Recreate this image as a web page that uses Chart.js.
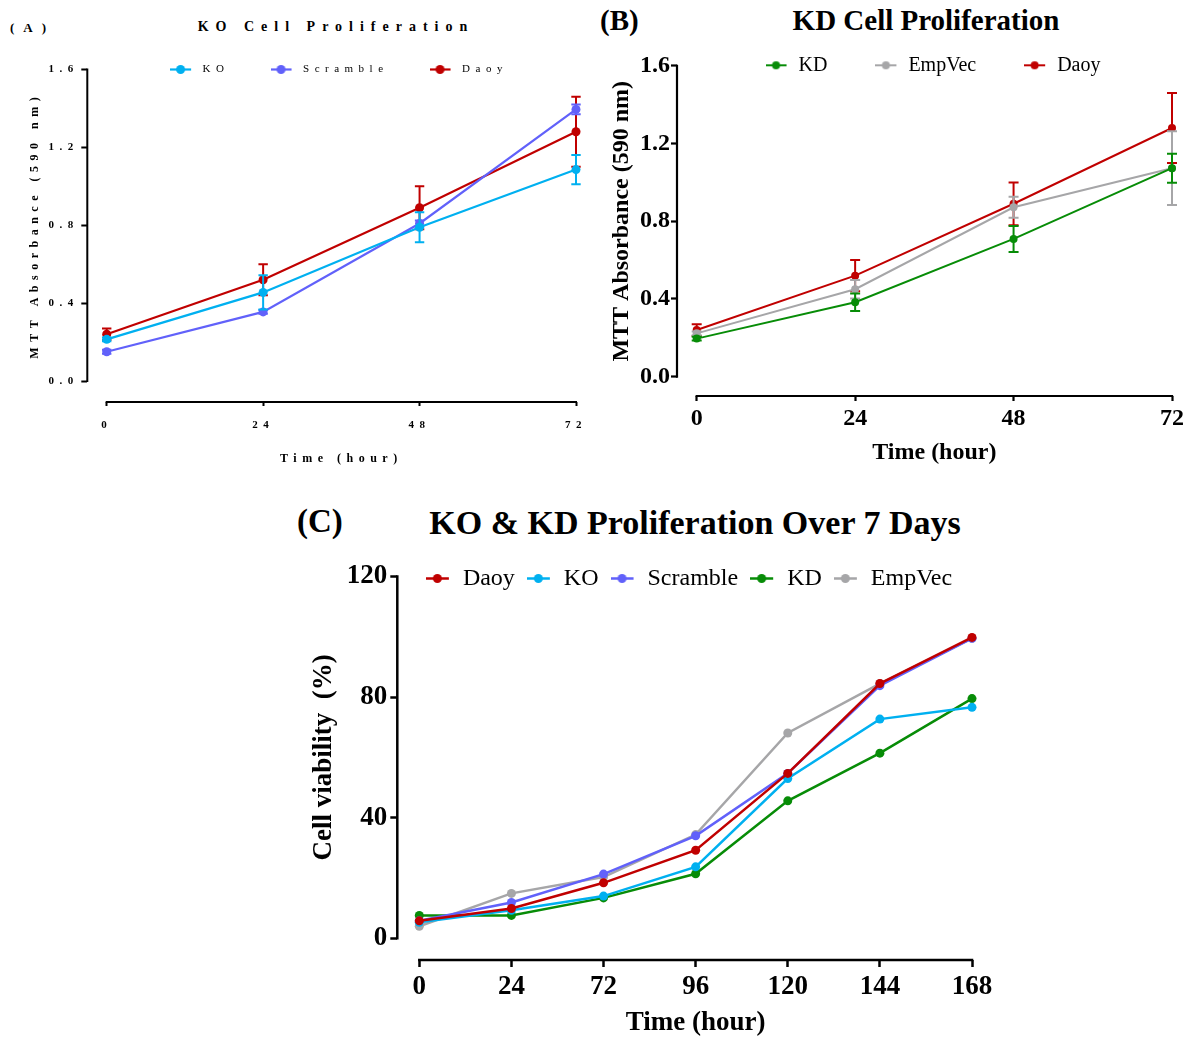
<!DOCTYPE html>
<html>
<head>
<meta charset="utf-8">
<title>Cell proliferation</title>
<script src="https://cdn.jsdelivr.net/npm/chart.js@4.4.1/dist/chart.umd.min.js"></script>
<style>
body { margin: 0; background: #fff; }
#page { position: relative; width: 1189px; height: 1041px; overflow: hidden;
  font-family: "Liberation Serif", "Times New Roman", serif; color: #000; }
#page canvas { position: absolute; }
.txt { position: absolute; white-space: nowrap; font-weight: bold; line-height: 1; transform: translateY(-50%); }
.mid { transform: translate(-50%, -50%); }
</style>
</head>
<body>
<div id="page">
  <div class="txt" style="left:10px;top:27px;font-size:13px;letter-spacing:9px">(A)</div>
  <div class="txt mid" style="left:336px;top:27px;font-size:14px;letter-spacing:7px">KO Cell Proliferation</div>
  <div class="txt" style="left:600px;top:20px;font-size:29px">(B)</div>
  <div class="txt mid" style="left:926px;top:20px;font-size:29px">KD Cell Proliferation</div>
  <div class="txt" style="left:297px;top:521px;font-size:33px">(C)</div>
  <div class="txt mid" style="left:695px;top:523px;font-size:34px">KO &amp; KD Proliferation Over 7 Days</div>
  <canvas id="chartA" width="600" height="475" style="left:0;top:0"></canvas>
  <canvas id="chartB" width="594" height="475" style="left:595px;top:0"></canvas>
  <canvas id="chartC" width="939" height="566" style="left:250px;top:475px"></canvas>
</div>
<script>
// ---- data ----
const hoursAB = [0, 24, 48, 72];
const absTicks = [0, 0.4, 0.8, 1.2, 1.6];
const absTickLabels = ['0.0', '0.4', '0.8', '1.2', '1.6'];

const koAbs = [0.214, 0.455, 0.790, 1.086];
const koAbsErr = [0.01, 0.088, 0.077, 0.075];
const scrambleAbs = [0.150, 0.355, 0.809, 1.395];
const scrambleAbsErr = [0.01, 0.01, 0.015, 0.025];
const daoyAbs = [0.240, 0.520, 0.890, 1.280];
const daoyAbsErr = [0.03, 0.08, 0.11, 0.18];
const kdAbs = [0.196, 0.383, 0.709, 1.073];
const kdAbsErr = [0.01, 0.045, 0.067, 0.075];
const empVecAbs = [0.223, 0.450, 0.872, 1.073];
const empVecAbsErr = [0.01, 0.048, 0.054, 0.19];

const hoursC = ['0', '24', '72', '96', '120', '144', '168'];
const viabTicks = [0, 40, 80, 120];
const viabTickLabels = ['0', '40', '80', '120'];
const daoyViab = [5.8, 9.9, 18.4, 29.2, 54.7, 84.5, 99.8];
const koViab = [5.3, 9.3, 14.0, 23.7, 53.0, 72.7, 76.6];
const scrambleViab = [5.8, 11.9, 21.3, 34.0, 54.7, 83.8, 99.5];
const kdViab = [7.6, 7.6, 13.4, 21.4, 45.6, 61.4, 79.5];
const empVecViab = [4.0, 14.9, 20.3, 34.4, 68.1, 84.5, 99.5];

const RED = '#c00000', CYAN = '#00b0f0', VIOLET = '#6161fa', GREEN = '#078c07', GREY = '#a6a6a8';

Chart.defaults.font.family = '"Liberation Serif", "Times New Roman", serif';
Chart.defaults.color = '#000';

// GraphPad style: axes pulled away from the plot, legend sitting level with the top tick
const offsetAxes = {
  id: 'offsetAxes',
  afterInit(chart) {
    const legend = chart.legend;
    const fit = legend.fit;
    legend.fit = function () {
      fit.call(this);
      this.fullHeight = this.height;
      this.height = 0;
    };
  },
  afterLayout(chart, args, o) {
    const { x, y } = chart.scales;
    y.left -= o.gapX; y.right -= o.gapX;
    x.top += o.gapY; x.bottom += o.gapY;
    const lg = chart.legend;
    const lab = lg.options.labels;
    const half = lg.width / 2;
    lg.left = o.legendX - half;
    lg.right = o.legendX + half;
    lg.top = y.getPixelForValue(y.max) + o.legendDy - lab.padding - lab.font.size / 2;
    lg.bottom = lg.top + lg.fullHeight;
  },
  beforeDatasetsDraw(chart, args, o) {
    const { x, y } = chart.scales;
    const ctx = chart.ctx;
    ctx.save();
    ctx.strokeStyle = '#000';
    ctx.lineWidth = o.lineWidth;
    ctx.beginPath();
    ctx.moveTo(y.right, y.getPixelForValue(y.max) - o.lineWidth / 2);
    ctx.lineTo(y.right, y.getPixelForValue(y.min) + o.lineWidth / 2);
    ctx.moveTo(x.getPixelForValue(x.min) - o.lineWidth / 2, x.top);
    ctx.lineTo(x.getPixelForValue(x.max) + o.lineWidth / 2, x.top);
    ctx.stroke();
    ctx.restore();
  }
};

const errorBars = {
  id: 'errorBars',
  beforeDatasetDraw(chart, args, o) {
    const ds = chart.data.datasets[args.index];
    if (!ds.errors) return;
    const y = chart.scales.y;
    const ctx = chart.ctx;
    ctx.save();
    ctx.strokeStyle = ds.borderColor;
    ctx.lineWidth = o.width;
    ds.data.forEach((v, i) => {
      const px = args.meta.data[i].x;
      const top = y.getPixelForValue(v + ds.errors[i]);
      const bot = y.getPixelForValue(v - ds.errors[i]);
      ctx.beginPath();
      ctx.moveTo(px, top); ctx.lineTo(px, bot);
      ctx.moveTo(px - o.cap, top); ctx.lineTo(px + o.cap, top);
      ctx.moveTo(px - o.cap, bot); ctx.lineTo(px + o.cap, bot);
      ctx.stroke();
    });
    ctx.restore();
  }
};

// panel A is typeset with wide letter spacing
const spacing = {
  id: 'spacing',
  beforeUpdate(chart, args, o) { chart.ctx.letterSpacing = o.px + 'px'; },
  beforeDraw(chart, args, o) { chart.ctx.letterSpacing = o.px + 'px'; }
};

function legendMark(color, m) {
  const c = document.createElement('canvas');
  c.width = m.w + m.gap;
  c.height = 2 * m.r + 2;
  const g = c.getContext('2d');
  const mid = c.height / 2;
  g.strokeStyle = color;
  g.fillStyle = color;
  g.lineWidth = m.line;
  g.beginPath(); g.moveTo(0, mid); g.lineTo(m.w, mid); g.stroke();
  g.beginPath(); g.arc(m.w / 2, mid, m.r, 0, Math.PI * 2); g.fill();
  return c;
}

function buildChart(id, d, s, extra) {
  const datasets = d.series.map(ser => ({
    label: ser.name,
    data: ser.values,
    errors: ser.errors,
    mark: legendMark(ser.color, s.mark),
    borderColor: ser.color,
    backgroundColor: ser.color,
    pointBackgroundColor: ser.color,
    borderWidth: s.line,
    pointRadius: s.dot,
    pointBorderWidth: 0,
    clip: false
  }));

  const grid = len => ({ drawOnChartArea: false, drawTicks: true, tickLength: len, tickWidth: s.axis, tickColor: '#000' });
  const bold = size => ({ size: size, weight: 'bold' });

  let x;
  if (d.xTicks) {
    x = {
      type: 'linear', bounds: 'data',
      min: d.xTicks[0], max: d.xTicks[d.xTicks.length - 1],
      afterBuildTicks: ax => { ax.ticks = d.xTicks.map(v => ({ value: v })); }
    };
  } else {
    x = { type: 'category', offset: false };
  }
  Object.assign(x, {
    afterFit: ax => { ax.height = s.xHeight; },
    grid: grid(s.xTickLen),
    border: { display: false },
    ticks: { font: bold(s.tick), padding: s.xPad, autoSkip: false, maxRotation: 0 },
    title: { display: true, text: d.xTitle, font: bold(s.axTitle), padding: { top: 0, bottom: s.xTitlePad } }
  });

  return new Chart(document.getElementById(id), {
    type: 'line',
    data: { labels: d.labels, datasets: datasets },
    plugins: [offsetAxes, errorBars].concat(extra || []),
    options: {
      responsive: false,
      devicePixelRatio: 1,
      animation: false,
      events: [],
      layout: { autoPadding: false, padding: { left: s.gapX, top: s.top, right: s.right, bottom: s.gapY } },
      scales: {
        x: x,
        y: {
          type: 'linear', bounds: 'data',
          min: 0, max: d.yTicks[d.yTicks.length - 1],
          afterBuildTicks: ax => { ax.ticks = d.yTicks.map(v => ({ value: v })); },
          afterFit: ax => { ax.width = s.yWidth; },
          grid: grid(s.yTickLen),
          border: { display: false },
          ticks: { font: bold(s.tick), padding: s.yPad, callback: (v, i) => d.yTickLabels[i] },
          title: { display: true, text: d.yTitle, font: bold(s.axTitle), padding: { top: s.yTitlePad, bottom: 0 } }
        }
      },
      plugins: {
        tooltip: { enabled: false },
        legend: {
          position: 'top',
          labels: {
            usePointStyle: true,
            pointStyleWidth: s.mark.w + s.mark.gap,
            padding: s.legendPad,
            font: { size: s.legendFont },
            color: '#000',
            generateLabels: chart => chart.data.datasets.map((ds, i) => ({
              text: ds.label, pointStyle: ds.mark, fillStyle: ds.borderColor,
              strokeStyle: ds.borderColor, lineWidth: 0, datasetIndex: i, hidden: false, textAlign: 'left'
            }))
          }
        },
        offsetAxes: { gapX: s.gapX, gapY: s.gapY, lineWidth: s.axis, legendX: s.legendX, legendDy: s.legendDy },
        errorBars: { width: s.errWidth, cap: s.cap },
        spacing: { px: s.letterSpacing || 0 }
      }
    }
  });
}

// (A) KO cell proliferation
buildChart('chartA', {
  labels: hoursAB, xTicks: hoursAB,
  yTicks: absTicks, yTickLabels: absTickLabels,
  xTitle: 'Time (hour)', yTitle: 'MTT Absorbance (590 nm)',
  series: [
    { name: 'KO', values: koAbs, errors: koAbsErr, color: CYAN },
    { name: 'Scramble', values: scrambleAbs, errors: scrambleAbsErr, color: VIOLET },
    { name: 'Daoy', values: daoyAbs, errors: daoyAbsErr, color: RED }
  ]
}, {
  gapX: 19.4, gapY: 21, top: 69.5, right: 14, yWidth: 87.3, xHeight: 73,
  tick: 11, axTitle: 12, xPad: 13, yPad: 2.5, xTickLen: 4, yTickLen: 6,
  xTitlePad: 8.8, yTitlePad: 27.4, axis: 2,
  line: 2.2, dot: 4.5, errWidth: 2, cap: 4.7,
  mark: { w: 21, gap: 6, r: 4.5, line: 2.2 }, legendFont: 11, legendPad: 41, legendX: 339, legendDy: 0,
  letterSpacing: 5.5
}, [spacing]);

// (B) KD cell proliferation
buildChart('chartB', {
  labels: hoursAB, xTicks: hoursAB,
  yTicks: absTicks, yTickLabels: absTickLabels,
  xTitle: 'Time (hour)', yTitle: 'MTT Absorbance (590 nm)',
  series: [
    { name: 'KD', values: kdAbs, errors: kdAbsErr, color: GREEN },
    { name: 'EmpVec', values: empVecAbs, errors: empVecAbsErr, color: GREY },
    { name: 'Daoy', values: daoyAbs, errors: daoyAbsErr, color: RED }
  ]
}, {
  gapX: 19.7, gapY: 19.3, top: 65.8, right: 17, yWidth: 82, xHeight: 79,
  tick: 24, axTitle: 24, xPad: 3, yPad: 1, xTickLen: 5, yTickLen: 6,
  xTitlePad: 7.6, yTitlePad: 12.1, axis: 2.2,
  line: 2, dot: 4, errWidth: 2, cap: 5,
  mark: { w: 21, gap: 2, r: 4, line: 2 }, legendFont: 20, legendPad: 48, legendX: 338, legendDy: -0.5
});

// (C) seven-day viability
buildChart('chartC', {
  labels: hoursC,
  yTicks: viabTicks, yTickLabels: viabTickLabels,
  xTitle: 'Time (hour)', yTitle: 'Cell viability  (%)',
  series: [
    { name: 'Daoy', values: daoyViab, color: RED },
    { name: 'KO', values: koViab, color: CYAN },
    { name: 'Scramble', values: scrambleViab, color: VIOLET },
    { name: 'KD', values: kdViab, color: GREEN },
    { name: 'EmpVec', values: empVecViab, color: GREY }
  ]
}, {
  gapX: 22, gapY: 21.7, top: 101.5, right: 217, yWidth: 147.3, xHeight: 81,
  tick: 27, axTitle: 27, xPad: 3.5, yPad: 3, xTickLen: 7, yTickLen: 7,
  xTitlePad: 1.8, yTitlePad: 57.8, axis: 2.5,
  line: 2.5, dot: 4.5, errWidth: 2, cap: 5,
  mark: { w: 23, gap: 2, r: 4.5, line: 2.5 }, legendFont: 24, legendPad: 12, legendX: 439, legendDy: 2
});
</script>
</body>
</html>
